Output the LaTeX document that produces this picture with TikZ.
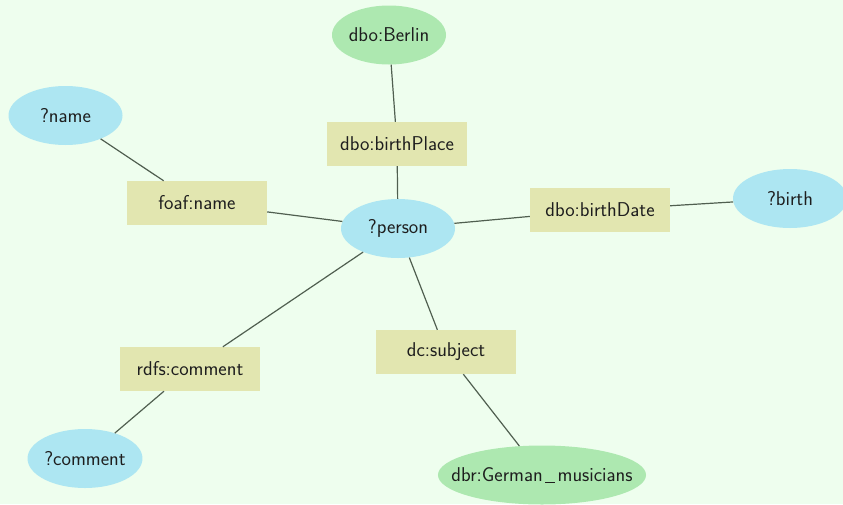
\documentclass[tikz,border=0pt]{standalone}
\usetikzlibrary{shapes.geometric}
\definecolor{bgmint}{RGB}{238,254,238}
\definecolor{varblue}{RGB}{173,230,242}
\definecolor{resgreen}{RGB}{173,232,176}
\definecolor{propfill}{RGB}{226,230,176}
\definecolor{edgegray}{RGB}{80,95,80}
\definecolor{labeltext}{RGB}{30,30,30}
% underscore drawn as a short spaced rule
\newcommand{\spacedunderscore}{\kern.12em\rule[-0.09em]{0.5em}{0.06em}\kern.12em}
\begin{document}
\begin{tikzpicture}[x=1pt,y=-1pt,
  every node/.style={font=\sffamily\fontsize{20}{24}\selectfont, text=labeltext, inner sep=0pt},
  varnode/.style={ellipse, fill=varblue, minimum width=114pt, minimum height=59pt},
  resnode/.style={ellipse, fill=resgreen, minimum width=114pt, minimum height=59pt},
  propnode/.style={rectangle, fill=propfill, minimum width=140pt, minimum height=44pt},
  link/.style={draw=edgegray, line width=1.2pt}]
  \fill[bgmint] (0,0) rectangle (843,504);
  \useasboundingbox (0,0) rectangle (843,504);
  \clip (0,0) rectangle (843,504);

  % resources and variables
  \node[resnode] (berlin) at (389,35) {dbo:Berlin};
  \node[varnode] (name) at (65.5,115.5) {?name};
  \node[varnode] (person) at (398,228.5) {?person};
  \node[varnode] (birth) at (790,198.5) {?birth};
  \node[varnode] (comment) at (85,458.5) {?comment};
  \node[resnode, inner xsep=-17pt, minimum width=207pt] (musicians) at (542,475)
    {dbr:German\spacedunderscore musicians};

  % properties
  \node[propnode] (birthplace) at (397,144) {dbo:birthPlace};
  \node[propnode] (foafname) at (197,203) {foaf:name};
  \node[propnode] (birthdate) at (600,210) {dbo:birthDate};
  \node[propnode] (rdfscomment) at (190,369) {rdfs:comment};
  \node[propnode] (subject) at (446,352) {dc:subject};

  % connectors
  \draw[link] (berlin) -- (birthplace);
  \draw[link] (birthplace) -- (person);
  \draw[link] (name) -- (foafname);
  \draw[link] (foafname) -- (person);
  \draw[link] (person) -- (birthdate);
  \draw[link] (birthdate) -- (birth);
  \draw[link] (person) -- (rdfscomment);
  \draw[link] (rdfscomment) -- (comment);
  \draw[link] (person) -- (subject);
  \draw[link] (subject) -- (musicians);
\end{tikzpicture}
\end{document}
